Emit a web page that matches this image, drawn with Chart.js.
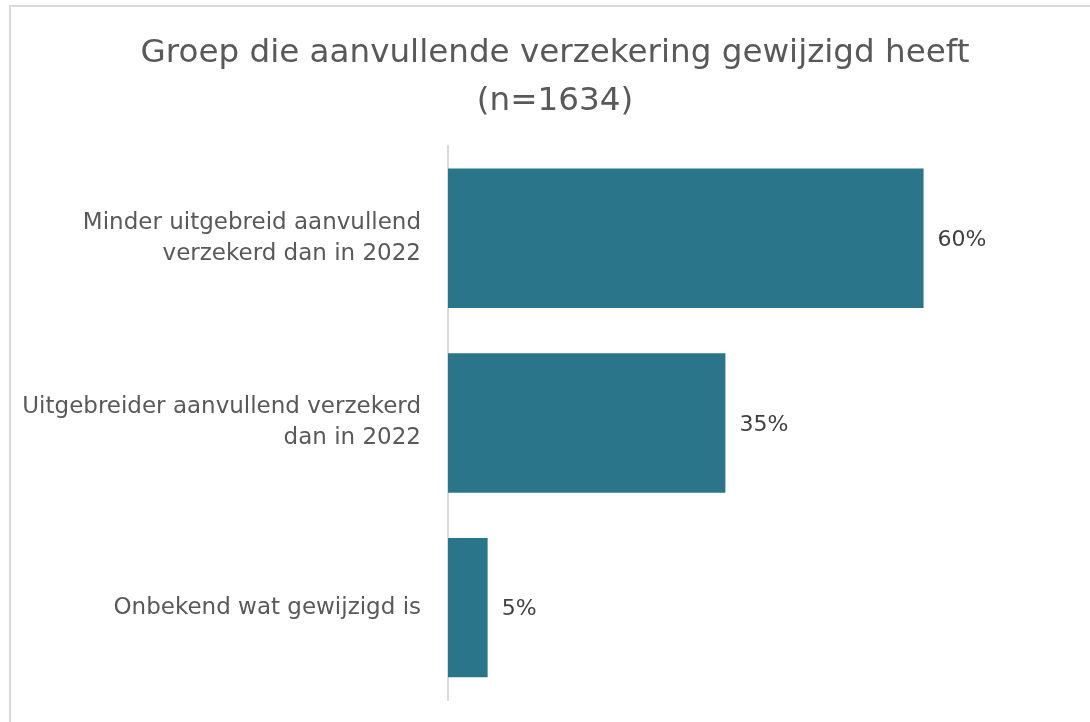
<!DOCTYPE html>
<html>
<head>
<meta charset="utf-8">
<script src="https://cdn.jsdelivr.net/npm/chart.js@4"></script>
<style>
  html, body { margin: 0; padding: 0; background: #fff; overflow: hidden; }
  #frame {
    position: absolute; left: 9px; top: 5px;
    width: 2000px; height: 2000px;
    border: 2px solid #d9d9d9;
  }
  #wrap { position: absolute; left: 0; top: 0; width: 1090px; height: 722px; }
</style>
</head>
<body>
<div id="frame"></div>
<div id="wrap"><canvas id="chart"></canvas></div>
<script>
// ── DATA ──
const categories = [
  ['Minder uitgebreid aanvullend', 'verzekerd dan in 2022'],
  ['Uitgebreider aanvullend verzekerd', 'dan in 2022'],
  'Onbekend wat gewijzigd is',
];
const shares = [60, 35, 5];
const titleLines = ['Groep die aanvullende verzekering gewijzigd heeft', '(n=1634)'];

const COLORS = {
  bar:   '#2a7589',
  axis:  '#d9d9d9',
  title: '#595959',
  label: '#595959',
  value: '#404040',
};
const FONT = "'DejaVu Sans', Verdana, sans-serif";

// value labels just right of each bar
const valueLabels = {
  id: 'valueLabels',
  afterDatasetsDraw(chart) {
    const { ctx } = chart;
    const meta = chart.getDatasetMeta(0);
    ctx.save();
    ctx.font = `22px ${FONT}`;
    ctx.fillStyle = COLORS.value;
    ctx.textAlign = 'left';
    ctx.textBaseline = 'middle';
    meta.data.forEach((bar, i) => {
      ctx.fillText(shares[i] + '%', bar.x + 14, bar.y + 2);
    });
    ctx.restore();
  },
};

new Chart(document.getElementById('chart'), {
  type: 'bar',
  data: {
    labels: categories,
    datasets: [{
      data: shares,
      backgroundColor: COLORS.bar,
      borderWidth: 0,
      categoryPercentage: 1,
      barPercentage: 0.755,
    }],
  },
  plugins: [valueLabels],
  options: {
    indexAxis: 'y',
    responsive: true,
    maintainAspectRatio: false,
    animation: false,
    layout: { padding: { left: 20, right: 0, top: 0, bottom: 22 } },
    plugins: {
      legend: { display: false },
      tooltip: { enabled: false },
      title: {
        display: true,
        text: titleLines,
        color: COLORS.title,
        font: { family: FONT, size: 32.6, weight: 'normal', lineHeight: 1.47 },
        padding: { top: 30, bottom: 20 },
      },
    },
    scales: {
      x: {
        display: false,
        min: 0,
        max: 81,
      },
      y: {
        afterFit: scale => {
          scale.width = 428;
          scale.paddingTop = 0;
          scale.paddingBottom = 0;
        },
        grid: { display: false },
        border: { display: true, color: COLORS.axis, width: 2 },
        ticks: {
          color: COLORS.label,
          padding: 19,
          font: { family: FONT, size: 23, lineHeight: 1.35 },
        },
      },
    },
  },
});
</script>
</body>
</html>
